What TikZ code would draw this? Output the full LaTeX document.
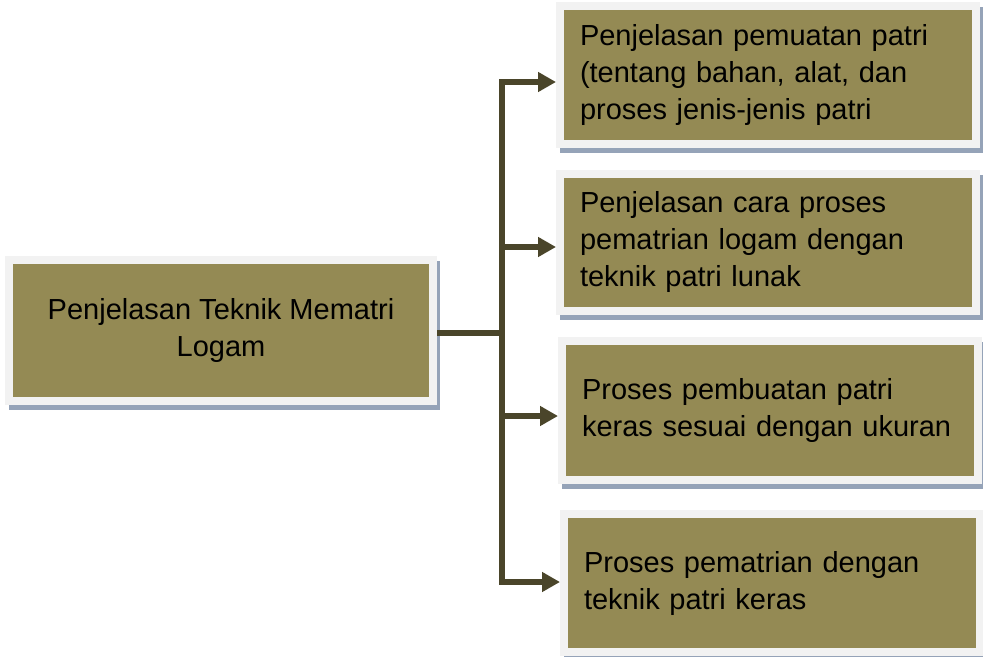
\documentclass[tikz,border=0pt]{standalone}
\usepackage{fontspec}
\setmainfont{Liberation Sans}
\usetikzlibrary{arrows.meta,calc,backgrounds}
\definecolor{olivebox}{HTML}{948A54}
\definecolor{framec}{HTML}{F2F2F2}
\definecolor{shadowc}{HTML}{95A3B8}
\definecolor{linkc}{HTML}{4A452A}
\tikzset{
  topicbox/.style={fill=olivebox, draw=framec, line width=8bp, inner ysep=0pt,
    font=\fontsize{29bp}{37bp}\selectfont, text=black},
  leafbox/.style={topicbox, minimum width=416bp, minimum height=138bp,
    text width=376bp, inner xsep=20bp, align=left},
  conn/.style={draw=linkc, line width=5.5bp},
  tip/.style={-{Triangle[length=18bp,width=19bp]}},
  shadowfill/.style={fill=shadowc},
}
\newcommand\boxshadow[1]{\fill[shadowfill] ($(#1.north west)+(4,5)$) rectangle ($(#1.south east)+(3,5)$);}
\begin{document}
\begin{tikzpicture}[x=1bp,y=-1bp]
\useasboundingbox (0,0) rectangle (983,657);

\node[topicbox, minimum width=424bp, minimum height=141bp, align=center] (main) at (221,330.5)
  {Penjelasan Teknik Mematri\\Logam};
\node[leafbox] (b1) at (768,75) {Penjelasan pemuatan patri\\(tentang bahan, alat, dan\\proses jenis-jenis patri};
\node[leafbox, minimum height=137bp] (b2) at (768,242.5) {Penjelasan cara proses\\pematrian logam dengan\\teknik patri lunak};
\node[leafbox, minimum height=139bp] (b3) at (770,410.5) {Proses pembuatan patri\\keras sesuai dengan ukuran};
\node[leafbox, minimum width=414bp] (b4) at (772,583) {Proses pematrian dengan\\teknik patri keras};

\begin{scope}[on background layer]
  \fill[white] (0,0) rectangle (983,657);
  \boxshadow{main}
  \boxshadow{b1}
  \boxshadow{b2}
  \boxshadow{b3}
  \boxshadow{b4}
\end{scope}

\coordinate (tx) at (502,0);
\coordinate (p1) at ($(b1.west)+(0,7)$);
\coordinate (p2) at ($(b2.west)+(0,4.5)$);
\coordinate (p3) at ($(b3.west)+(0,5.5)$);
\coordinate (p4) at ($(b4.west)+(0,-1)$);
\coordinate (pm) at ($(main.east)+(0,2.5)$);

\draw[conn] (pm) -- (pm -| tx);
\draw[conn, tip] (tx |- p4) -- (tx |- p1) -- (p1);
\draw[conn, tip] (tx |- p1) -- (tx |- p4) -- (p4);
\draw[conn, tip] (tx |- p2) -- (p2);
\draw[conn, tip] (tx |- p3) -- (p3);
\end{tikzpicture}
\end{document}
